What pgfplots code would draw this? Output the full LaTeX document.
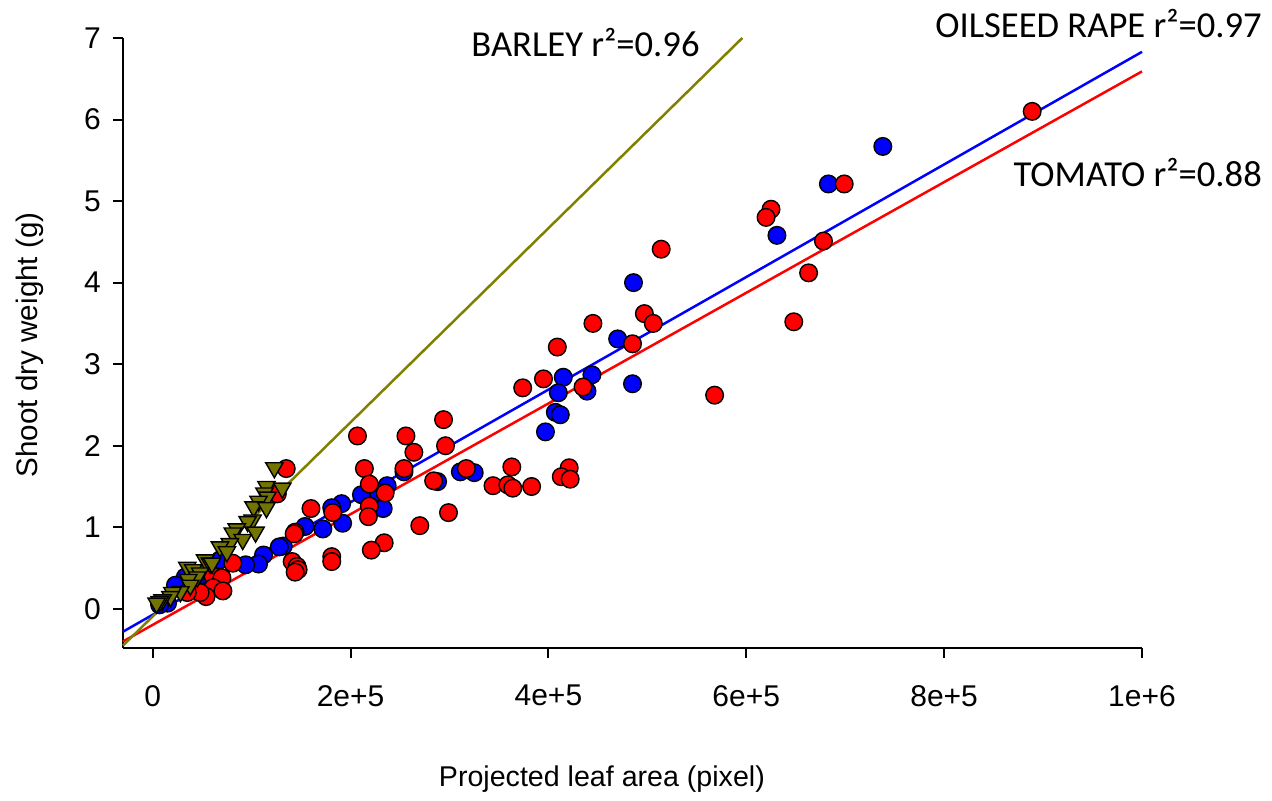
\documentclass[border=0pt]{standalone}
\usepackage{fontspec}
\setmainfont{Liberation Sans}
\newfontfamily\calibri{Carlito}
\usepackage{pgfplots}
\pgfplotsset{compat=1.18}
\definecolor{olivec}{RGB}{128,128,0}
\definecolor{olivem}{RGB}{115,115,0}
\begin{document}
\begin{tikzpicture}
\useasboundingbox (-61.5pt,-76.5pt) rectangle (574.5pt,324pt);
\begin{axis}[
 at={(0,0)}, anchor=south west,
 scale only axis, width=509.5pt, height=305pt,
 xmin=-30000, xmax=1000000, ymin=-0.48, ymax=7,
 axis lines=left, axis line style={-, line width=1pt},
 tick align=outside, major tick length=5pt, tick style={line width=1pt, black},
 xtick={0,200000,400000,600000,800000,1000000},
 xticklabels={0,2e+5,4e+5,6e+5,8e+5,1e+6},
 ytick={0,1,2,3,4,5,6,7}, yticklabels={0,1,2,3,4,5,6,7},
 tick label style={font=\fontsize{15}{17}\selectfont},
 xticklabel style={yshift=-10pt},
 yticklabel style={xshift=-2.5pt},
 /pgf/number format/assume math mode=true,
 scaled x ticks=false,
 xlabel={Projected leaf area (pixel)}, ylabel={Shoot dry weight (g)},
 xlabel style={font=\fontsize{14.3}{17}\selectfont, at={(axis description cs:0.47,-0.2145)}, anchor=center},
 ylabel style={font=\fontsize{14.8}{17}\selectfont, at={(axis description cs:-0.0913,0.497)}, anchor=center},
 clip=false,
]
\addplot[blue, line width=1.25pt] coordinates {(-30000,-0.28) (1000000,6.83)};
\addplot[red, line width=1.25pt] coordinates {(-30000,-0.40) (1000000,6.59)};
\addplot[olivec, line width=1.25pt] coordinates {(-30000,-0.45) (596000,7)};
% OILSEED RAPE
\addplot[only marks, mark=*, mark size=4.4pt, mark options={fill=blue, draw=black, line width=0.7pt}] table {
x y
738000 5.67
683000 5.21
631000 4.58
486000 4.00
470000 3.31
485000 2.76
444000 2.87
439000 2.67
415000 2.84
410000 2.65
407000 2.41
412000 2.38
397000 2.17
311000 1.68
325000 1.67
288000 1.56
254000 1.68
237000 1.51
228000 1.43
211000 1.40
233000 1.23
191000 1.29
181000 1.24
192000 1.05
172000 0.98
154000 1.01
132000 0.77
128000 0.76
112000 0.66
107000 0.55
94000 0.54
68000 0.60
33000 0.39
23000 0.29
48000 0.29
15000 0.07
7000 0.05
};
% TOMATO
\addplot[only marks, mark=*, mark size=4.4pt, mark options={fill=red, draw=black, line width=0.7pt}] table {
x y
889000 6.10
699000 5.21
625000 4.90
620000 4.80
678000 4.51
663000 4.12
648000 3.52
514000 4.41
497000 3.62
506000 3.50
485000 3.25
568000 2.62
445000 3.50
435000 2.72
409000 3.21
395000 2.82
374000 2.71
294000 2.32
296000 2.00
256000 2.12
264000 1.92
207000 2.12
214000 1.72
254000 1.72
219000 1.53
317000 1.72
284000 1.57
363000 1.74
344000 1.51
359000 1.52
364000 1.48
383000 1.50
421000 1.73
413000 1.62
422000 1.59
235000 1.42
219000 1.26
218000 1.13
299000 1.18
270000 1.02
234000 0.81
221000 0.72
160000 1.23
182000 1.18
144000 0.94
143000 0.92
181000 0.64
181000 0.58
141000 0.58
146000 0.52
147000 0.48
144000 0.45
135000 1.72
126000 1.41
81000 0.56
61000 0.40
70000 0.38
53000 0.21
61000 0.26
71000 0.22
54000 0.15
40000 0.26
48000 0.20
35000 0.20
};
% BARLEY
\addplot[only marks, mark=triangle*, mark size=5pt, mark options={rotate=180, fill=olivem, draw=black, line width=0.7pt}] table {
x y
123000 1.73
115000 1.50
131000 1.48
113000 1.42
116000 1.37
107000 1.32
102000 1.25
115000 1.24
101000 1.09
96000 1.07
104000 0.94
85000 0.98
81000 0.93
91000 0.85
78000 0.80
68000 0.76
75000 0.70
53000 0.60
58000 0.56
60000 0.56
35000 0.51
41000 0.48
48000 0.44
45000 0.39
36000 0.36
38000 0.29
28000 0.21
20000 0.20
18000 0.15
10000 0.11
7000 0.09
4000 0.07
};
\node[anchor=base west, inner sep=0pt, font=\calibri\fontsize{18.3}{21}\selectfont] at (axis cs:321800,6.77) {BARLEY r²=0.96};
\node[anchor=base east, inner sep=0pt, font=\calibri\fontsize{18.3}{21}\selectfont] at (axis cs:1121500,7.01) {OILSEED RAPE r²=0.97};
\node[anchor=base east, inner sep=0pt, font=\calibri\fontsize{18.3}{21}\selectfont] at (axis cs:1121500,5.175) {TOMATO r²=0.88};
\end{axis}
\end{tikzpicture}
\end{document}
